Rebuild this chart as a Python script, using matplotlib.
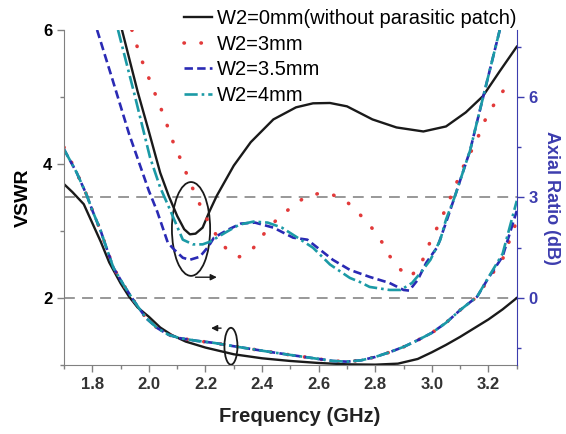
import matplotlib
matplotlib.use("Agg")
import matplotlib.pyplot as plt
from matplotlib.patches import Ellipse
from matplotlib.ticker import MultipleLocator

plt.rcParams['font.family'] = ['Liberation Sans', 'DejaVu Sans']

labels = ["W2=0mm(without parasitic patch)", "W2=3mm", "W2=3.5mm", "W2=4mm"]

# VSWR curves (left axis)
f_vswr0 = [1.70, 1.73, 1.77, 1.80, 1.83, 1.86, 1.90, 1.93, 1.96, 2.00, 2.04, 2.08, 2.13,
           2.20, 2.30, 2.40, 2.50, 2.60, 2.70, 2.80, 2.88, 2.95, 3.00, 3.05, 3.10, 3.15,
           3.20, 3.25, 3.30]
vswr0 = [3.70, 3.58, 3.40, 3.12, 2.84, 2.53, 2.22, 2.02, 1.86, 1.72, 1.56, 1.45, 1.35,
         1.26, 1.16, 1.10, 1.06, 1.03, 1.01, 1.005, 1.02, 1.09, 1.19, 1.30, 1.42, 1.55,
         1.68, 1.83, 2.00]

f_vswr = [1.70, 1.745, 1.78, 1.80, 1.83, 1.85, 1.875, 1.91, 1.945, 1.99, 2.03, 2.07, 2.11,
          2.17, 2.23, 2.30, 2.36, 2.42, 2.50, 2.60, 2.65, 2.70, 2.75, 2.80, 2.85, 2.90,
          2.95, 3.00, 3.05, 3.10, 3.16, 3.20, 3.25, 3.30]
vswr3 = [4.25, 3.87, 3.54, 3.31, 3.00, 2.75, 2.45, 2.20, 1.97, 1.70, 1.55, 1.45, 1.40,
         1.36, 1.33, 1.28, 1.24, 1.20, 1.15, 1.09, 1.06, 1.05, 1.07, 1.12, 1.19, 1.27,
         1.37, 1.48, 1.63, 1.82, 2.02, 2.28, 2.58, 3.15]
vswr35 = [4.22, 3.87, 3.54, 3.31, 3.00, 2.75, 2.45, 2.20, 1.97, 1.70, 1.55, 1.45, 1.40,
          1.36, 1.33, 1.28, 1.24, 1.20, 1.15, 1.09, 1.06, 1.05, 1.07, 1.12, 1.19, 1.27,
          1.37, 1.48, 1.63, 1.82, 2.02, 2.30, 2.62, 3.30]
vswr4 = [4.22, 3.87, 3.54, 3.31, 3.00, 2.75, 2.45, 2.20, 1.97, 1.70, 1.55, 1.45, 1.40,
         1.36, 1.33, 1.28, 1.24, 1.20, 1.15, 1.09, 1.06, 1.05, 1.07, 1.12, 1.19, 1.27,
         1.37, 1.48, 1.63, 1.82, 2.02, 2.31, 2.66, 3.45]

# Axial ratio curves (right axis, dB)
f_ar0 = [1.905, 1.96, 2.00, 2.04, 2.07, 2.10, 2.125, 2.145, 2.165, 2.19, 2.215, 2.24, 2.27,
         2.30, 2.36, 2.44, 2.52, 2.58, 2.64, 2.70, 2.79, 2.875, 2.97, 3.05, 3.12, 3.18,
         3.24, 3.30]
ar0 = [8.0, 6.17, 4.97, 3.74, 3.05, 2.45, 2.05, 1.90, 1.92, 2.10, 2.60, 3.05, 3.50,
       3.95, 4.65, 5.33, 5.69, 5.81, 5.82, 5.72, 5.33, 5.09, 4.97, 5.12, 5.54, 6.02,
       6.77, 7.50]

f_ar3 = [1.94, 1.97, 2.01, 2.05, 2.085, 2.125, 2.145, 2.166, 2.188, 2.21, 2.24, 2.276, 2.32,
         2.37, 2.41, 2.455, 2.505, 2.55, 2.60, 2.65, 2.70, 2.745, 2.79, 2.825, 2.85, 2.89,
         2.925, 2.965, 3.00, 3.03, 3.05, 3.07, 3.11, 3.16, 3.18, 3.205, 3.235, 3.27]
ar3 = [8.0, 7.2, 6.35, 5.5, 4.67, 3.89, 3.44, 3.08, 2.63, 2.28, 1.85, 1.44, 1.23,
       1.50, 1.95, 2.37, 2.72, 3.00, 3.12, 3.08, 2.87, 2.50, 2.07, 1.65, 1.26, 0.84,
       0.62, 1.08, 1.80, 2.28, 2.70, 3.08, 3.90, 4.73, 5.18, 5.57, 5.99, 6.38]

f_ar35 = [1.817, 1.87, 1.93, 2.00, 2.03, 2.067, 2.09, 2.12, 2.145, 2.18, 2.21, 2.23, 2.28,
          2.325, 2.375, 2.44, 2.51, 2.56, 2.65, 2.71, 2.78, 2.85, 2.90, 2.92, 2.95, 2.98,
          3.02, 3.05, 3.08, 3.135, 3.16, 3.195, 3.24]
ar35 = [8.0, 6.56, 4.90, 3.20, 2.57, 1.65, 1.44, 1.20, 1.14, 1.23, 1.53, 1.80, 2.04,
        2.22, 2.25, 2.10, 1.80, 1.74, 1.14, 0.84, 0.63, 0.45, 0.24, 0.22, 0.54, 1.05,
        1.53, 2.25, 3.00, 4.40, 5.27, 6.47, 8.0]

f_ar4 = [1.891, 1.95, 2.004, 2.04, 2.075, 2.10, 2.12, 2.156, 2.19, 2.216, 2.276, 2.32, 2.37,
         2.42, 2.47, 2.52, 2.58, 2.64, 2.71, 2.745, 2.78, 2.85, 2.89, 2.93, 2.96, 2.995,
         3.03, 3.05, 3.08, 3.135, 3.16, 3.195, 3.24]
ar4 = [8.0, 6.05, 4.20, 3.30, 2.63, 2.13, 1.74, 1.60, 1.60, 1.68, 1.98, 2.19, 2.28,
       2.25, 2.10, 1.83, 1.50, 1.00, 0.60, 0.48, 0.33, 0.24, 0.24, 0.45, 0.75, 1.14,
       1.74, 2.34, 3.00, 4.40, 5.27, 6.47, 8.0]

black = '#1a1a1a'
red = '#e23a3a'
blue = '#2a2ab4'
teal = '#1b9aa6'
axis_blue = '#3c3cae'

fig = plt.figure(figsize=(5.66, 4.34), dpi=100)
ax = fig.add_axes([0.113, 0.159, 0.8, 0.772])
ax2 = ax.twinx()

ax.axhline(2, color='#909090', lw=1.3, ls=(0, (6, 4)), zorder=1)
ax.axhline(3.5, color='#909090', lw=1.3, ls=(0, (6, 4)), zorder=1)

styles = [
    dict(color=black, lw=1.7, ls='-'),
    dict(color=red, lw=2.6, ls=(0, (0.1, 4.6)), dash_capstyle='round'),
    dict(color=blue, lw=1.9, ls=(0, (3.2, 1.6))),
    dict(color=teal, lw=1.9, ls=(0, (5, 1.5, 1, 1.5))),
]

handles = []
for f, v, st, lab in zip([f_vswr0, f_vswr, f_vswr, f_vswr], [vswr0, vswr3, vswr35, vswr4],
                         styles, labels):
    h, = ax.plot(f, v, label=lab, **st)
    handles.append(h)

for f, v, st in zip([f_ar0, f_ar3, f_ar35, f_ar4], [ar0, ar3, ar35, ar4], styles):
    ax2.plot(f, v, **st)

ax.set_xlim(1.7, 3.3)
ax.set_ylim(1, 6)
ax2.set_ylim(-2, 8)

ax.xaxis.set_minor_locator(MultipleLocator(0.1))
ax.set_xticks([1.8, 2.0, 2.2, 2.4, 2.6, 2.8, 3.0, 3.2])
ax.set_yticks([2, 4, 6])
ax.yaxis.set_minor_locator(MultipleLocator(1))
ax2.set_yticks([0, 3, 6])
ax2.yaxis.set_minor_locator(MultipleLocator(1.5))

for a in (ax, ax2):
    a.spines['top'].set_visible(False)
ax.spines['left'].set_color('#808080')
ax.spines['bottom'].set_color('#808080')
ax.spines['right'].set_visible(False)
ax2.spines['left'].set_visible(False)
ax2.spines['bottom'].set_visible(False)
ax2.spines['right'].set_color(axis_blue)

ax.tick_params(which='major', direction='out', length=5, width=1, color='#808080',
               labelsize=12)
ax.tick_params(which='minor', direction='out', length=3, width=1, color='#808080')
ax2.tick_params(which='major', direction='out', length=5, width=1, color=axis_blue,
                labelcolor=axis_blue, labelsize=12)
ax2.tick_params(which='minor', direction='out', length=3, width=1, color=axis_blue)
for t in ax.get_xticklabels() + ax.get_yticklabels() + ax2.get_yticklabels():
    t.set_fontweight('bold')
for t in ax.get_xticklabels():
    t.set_color('#333333')

ax.set_xlabel("Frequency (GHz)", fontsize=14.5, fontweight='bold', color='#222222')
ax.xaxis.set_label_coords(0.521, -0.125)
ax.set_ylabel("VSWR", fontsize=14, fontweight='bold', labelpad=8)
ax2.set_ylabel("Axial Ratio (dB)", fontsize=13, fontweight='bold', color=axis_blue,
               rotation=270, labelpad=16)

# annotation ellipses and arrows
ax.add_patch(Ellipse((2.149, 3.03), 0.135, 1.40, fill=False, ec=black, lw=1.3, zorder=5))
ax.add_patch(Ellipse((2.29, 1.28), 0.046, 0.55, fill=False, ec=black, lw=1.3, zorder=5))
ax.annotate("", xy=(2.25, 2.31), xytext=(2.155, 2.31),
            arrowprops=dict(arrowstyle='-|>', color=black, lw=1, mutation_scale=9))
ax.annotate("", xy=(2.21, 1.55), xytext=(2.265, 1.55),
            arrowprops=dict(arrowstyle='-|>', color=black, lw=1, mutation_scale=9))

ax2.legend(handles=handles, loc='upper left', bbox_to_anchor=(184 / 566, 1 - 9 / 434),
           bbox_transform=fig.transFigure, frameon=False, fontsize=14.5,
           handlelength=1.4, handletextpad=0.25, labelspacing=0.33, borderaxespad=0,
           borderpad=0)

fig.savefig("out.png", dpi=100)
